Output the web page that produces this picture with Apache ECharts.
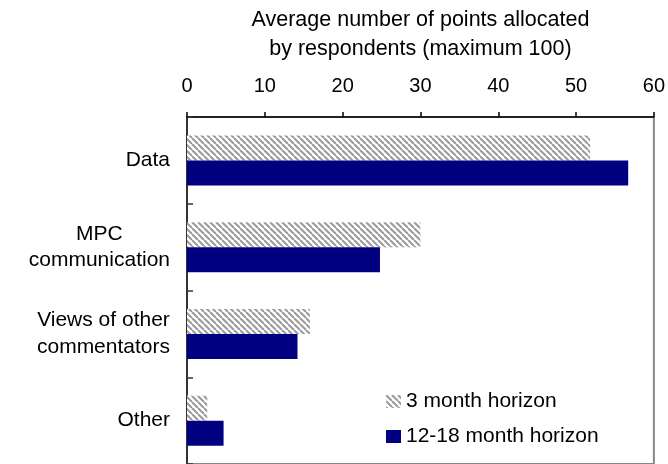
<!DOCTYPE html>
<html><head><meta charset="utf-8">
<script src="https://cdn.jsdelivr.net/npm/echarts@6/dist/echarts.min.js"></script>
<style>html,body{margin:0;padding:0;background:#fff}#c{width:668px;height:464px}</style>
</head><body><div id="c"></div>
<script>
const categories = ['Data', 'MPC\ncommunication', 'Views of other\ncommentators', 'Other'];
const threeMonth = [51.8, 30.0, 15.8, 2.6];
const twelveEighteen = [56.7, 24.8, 14.2, 4.7];
const xMin = 0, xMax = 60, xInterval = 10;
const axisTitle = 'Average number of points allocated\nby respondents (maximum 100)';
const seriesNames = ['3 month horizon', '12-18 month horizon'];

function hatch() {
  const c = document.createElement('canvas');
  c.width = 6; c.height = 6;
  const g = c.getContext('2d');
  g.fillStyle = '#fff'; g.fillRect(0, 0, 6, 6);
  g.strokeStyle = '#9a9a9a'; g.lineWidth = 2;
  for (const x0 of [-6, 0, 6]) { g.beginPath(); g.moveTo(x0, 0); g.lineTo(x0 + 6, 6); g.stroke(); }
  return c;
}
const hatchFill = { image: hatch(), repeat: 'repeat' };
const FONT = 'Liberation Sans, Arial, sans-serif';

const chart = echarts.init(document.getElementById('c'), null, { renderer: 'canvas' });
chart.setOption({
  animation: false,
  backgroundColor: '#fff',
  textStyle: { fontFamily: FONT },
  grid: { left: 187, right: 14, top: 117, bottom: -4, show: true, borderColor: '#888', borderWidth: 2, backgroundColor: 'transparent' },
  legend: {
    orient: 'vertical', left: 381, top: 386, itemWidth: 15, itemHeight: 13, itemGap: 14,
    icon: 'rect', data: seriesNames,
    textStyle: { fontSize: 21, color: '#000', fontFamily: FONT }
  },
  xAxis: {
    type: 'value', position: 'top', min: xMin, max: xMax, interval: xInterval,
    axisLine: { show: true, lineStyle: { color: '#000', width: 1.5 } },
    axisTick: { show: true, length: 5, lineStyle: { color: '#000', width: 1.5 } },
    axisLabel: { fontSize: 20, color: '#000', margin: 21, fontFamily: FONT },
    splitLine: { show: false },
    name: axisTitle, nameLocation: 'middle', nameGap: 54,
    nameTextStyle: { fontSize: 21.5, lineHeight: 28.5, color: '#000', fontFamily: FONT }
  },
  yAxis: {
    type: 'category', inverse: true, data: categories,
    axisLine: { show: true, lineStyle: { color: '#333', width: 2 } },
    axisTick: { show: true, inside: true, length: 6, lineStyle: { color: '#333', width: 1.5 } },
    axisLabel: {
      fontSize: 21, color: '#000', margin: 17, lineHeight: 26.5, fontFamily: FONT,
      formatter: v => v.split('\n').map(s => '{c|' + s + '}').join('\n'),
      rich: { c: { align: 'center', fontSize: 21, lineHeight: 26.5, color: '#000', fontFamily: FONT } }
    }
  },
  series: [
    { name: seriesNames[0], type: 'bar', data: threeMonth, barWidth: 25, barGap: '0%', itemStyle: { color: hatchFill } },
    { name: seriesNames[1], type: 'bar', data: twelveEighteen, barWidth: 25, barGap: '0%', itemStyle: { color: '#000080' } }
  ]
});
</script></body></html>
